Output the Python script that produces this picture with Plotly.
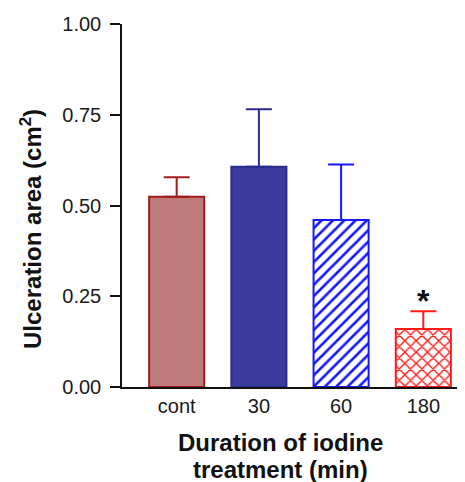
import plotly.graph_objects as go

categories = ["cont", "30", "60", "180"]
means = [0.524, 0.607, 0.460, 0.160]
sem = [0.054, 0.158, 0.153, 0.049]
fill_colors = ["#bf7b79", "#3b3c9d", "#ffffff", "#ffffff"]
line_colors = ["#a11d1d", "#2b2c8d", "#1616ff", "#ff1a1a"]
patterns = ["", "", "/", "x"]
y_ticks = [0, 0.25, 0.5, 0.75, 1.0]
x_title_lines = ["Duration of iodine", "treatment (min)"]
y_title = "Ulceration area (cm<sup>2</sup>)"
sig_marks = ["", "", "", "*"]

FONT = "Liberation Sans, Arial, sans-serif"

# the page body has an 8px margin; size the figure so the plot area lands
# where it is in the reference
PAGE_OFF = 8
PL, PT, PW, PH = 122, 24, 343, 363

fig = go.Figure()
for i, cat in enumerate(categories):
    fig.add_trace(go.Bar(
        x=[i], y=[means[i]],
        width=0.67,
        marker=dict(
            color=fill_colors[i],
            line=dict(color=line_colors[i], width=2),
            pattern=dict(shape=patterns[i], fgcolor=line_colors[i], fgopacity=1,
                         bgcolor="#ffffff", size=8, solidity=0.32,
                         fillmode="overlay") if patterns[i] else None,
        ),
        error_y=dict(type="data", symmetric=False, array=[sem[i]], arrayminus=[0],
                     color=line_colors[i], thickness=2, width=13),
        showlegend=False,
    ))
    if sig_marks[i]:
        fig.add_annotation(x=i, y=means[i] + sem[i], text="<b>" + sig_marks[i] + "</b>",
                           showarrow=False, yanchor="bottom", yshift=-10,
                           font=dict(family=FONT, size=32, color="#111111"))

W, H = 465 - PAGE_OFF, 482 - PAGE_OFF
fig.update_layout(
    width=W, height=H,
    margin=dict(l=PL - PAGE_OFF, r=W - (PL - PAGE_OFF) - PW, t=PT - PAGE_OFF,
                b=H - (PT - PAGE_OFF) - PH, autoexpand=False),
    paper_bgcolor="white", plot_bgcolor="white",
    barmode="overlay",
    font=dict(family=FONT, color="#1a1a1a"),
    xaxis=dict(
        range=[-0.665, 3.507],
        tickmode="array", tickvals=list(range(len(categories))), ticktext=categories,
        showline=True, linecolor="#111111", linewidth=1.5,
        ticks="", showgrid=False, zeroline=False,
        tickfont=dict(family=FONT, size=20, color="#1a1a1a"),
    ),
    yaxis=dict(
        range=[0, 1.0],
        tickmode="array", tickvals=y_ticks, tickformat=".2f",
        showline=True, linecolor="#111111", linewidth=1.5,
        ticks="outside", ticklen=10, tickwidth=1.5, tickcolor="#111111",
        ticklabelstandoff=5,
        showgrid=False, zeroline=False,
        tickfont=dict(family=FONT, size=20, color="#1a1a1a"),
    ),
)

# axis titles (positions given in reference pixels, converted to paper units)
def px_x(px):
    return (px - PL) / PW

def px_y(py):
    return (PT + PH - py) / PH

fig.add_annotation(xref="paper", yref="paper", x=px_x(31), y=px_y(229),
                   text="<b>" + y_title + "</b>", textangle=-90, showarrow=False,
                   xanchor="center", yanchor="middle",
                   font=dict(family=FONT, size=24, color="#111111"))
fig.add_annotation(xref="paper", yref="paper", x=px_x(280), y=px_y(442),
                   text="<b>" + x_title_lines[0] + "</b>", showarrow=False,
                   xanchor="center", yanchor="middle",
                   font=dict(family=FONT, size=24, color="#111111"))
fig.add_annotation(xref="paper", yref="paper", x=px_x(280), y=px_y(469),
                   text="<b>" + x_title_lines[1] + "</b>", showarrow=False,
                   xanchor="center", yanchor="middle",
                   font=dict(family=FONT, size=24, color="#111111"))

fig.write_html("out.html")
